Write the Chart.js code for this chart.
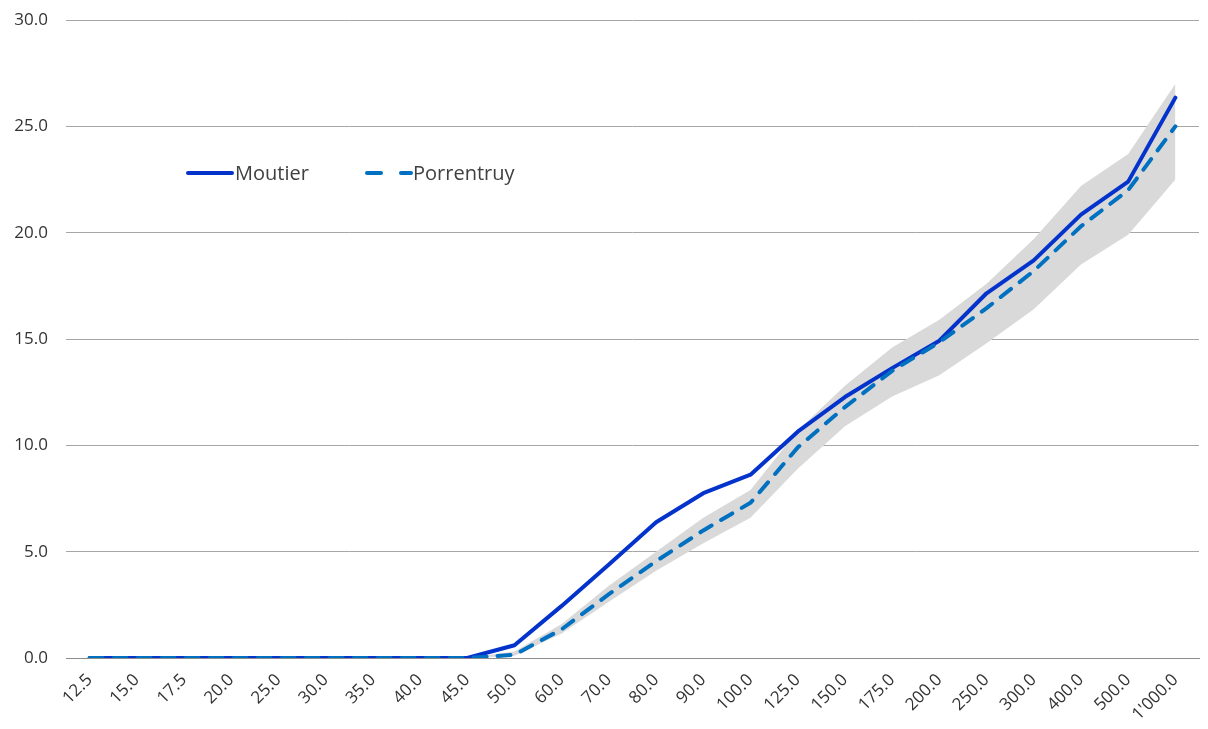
<!DOCTYPE html>
<html>
<head>
<meta charset="utf-8">
<script src="https://cdn.jsdelivr.net/npm/chart.js@4/dist/chart.umd.min.js"></script>
<style>
  html, body { margin: 0; padding: 0; background: #fff; }
  #wrap { width: 1208px; height: 729px; }
</style>
</head>
<body>
<div id="wrap"><canvas id="grafica" width="1208" height="729"></canvas></div>
<script>
// categorias del eje X
const categorias = ['12.5','15.0','17.5','20.0','25.0','30.0','35.0','40.0','45.0','50.0','60.0','70.0','80.0','90.0','100.0','125.0','150.0','175.0','200.0','250.0','300.0','400.0','500.0',"1'000.0"];

// series
const moutier    = [0,0,0,0,0,0,0,0,0,0.6,2.45,4.4,6.38,7.75,8.62,10.64,12.27,13.63,14.92,17.15,18.7,20.85,22.4,26.35];
const porrentruy = [0,0,0,0,0,0,0,0,0,0.15,1.35,3.0,4.55,6.0,7.3,9.9,11.8,13.5,14.85,16.45,18.2,20.3,22.0,25.0];

// banda gris (min / max)
const bandaMin = [0,0,0,0,0,0,0,0,0,0.1,1.15,2.65,4.1,5.4,6.6,8.9,10.9,12.3,13.3,14.8,16.4,18.5,19.9,22.5];
const bandaMax = [0,0,0,0,0,0,0,0,0,0.3,1.6,3.4,5.0,6.6,7.9,10.7,12.8,14.6,15.9,17.6,19.7,22.2,23.7,27.0];

// ticks eje Y
const ticksY = [0, 5, 10, 15, 20, 25, 30];

const FUENTE = "'Open Sans', sans-serif";

// leyenda dibujada dentro del area
const leyendaPlugin = {
    id: 'leyendaInterna',
    afterDraw(chart) {
        const ctx = chart.ctx;
        const y = 173;
        ctx.save();
        ctx.lineCap = 'round';
        ctx.lineWidth = 4;
        // Moutier
        ctx.strokeStyle = '#0433CC';
        ctx.beginPath(); ctx.moveTo(188, y); ctx.lineTo(232, y); ctx.stroke();
        // Porrentruy
        ctx.strokeStyle = '#0070C0';
        ctx.beginPath(); ctx.moveTo(367, y); ctx.lineTo(381, y); ctx.stroke();
        ctx.beginPath(); ctx.moveTo(401, y); ctx.lineTo(411, y); ctx.stroke();

        ctx.fillStyle = '#404040';
        ctx.font = "20px " + FUENTE;
        ctx.textBaseline = 'middle';
        ctx.fillText('Moutier', 235, y + 1);
        ctx.fillText('Porrentruy', 413, y + 1);
        ctx.restore();
    }
};

const ctx = document.getElementById('grafica').getContext('2d');
new Chart(ctx, {
    type: 'line',
    data: {
        labels: categorias,
        datasets: [
            {
                label: 'Porrentruy',
                data: porrentruy,
                borderColor: '#0070C0',
                borderWidth: 4,
                borderDash: [13, 11],
                borderCapStyle: 'round',
                pointRadius: 0,
                fill: false,
                tension: 0,
                order: 0
            },
            {
                label: 'Moutier',
                data: moutier,
                borderColor: '#0433CC',
                borderWidth: 4,
                borderCapStyle: 'round',
                borderJoinStyle: 'round',
                pointRadius: 0,
                fill: false,
                tension: 0,
                order: 1
            },
            {
                label: 'min',
                data: bandaMin,
                borderWidth: 0,
                borderColor: 'rgba(0,0,0,0)',
                pointRadius: 0,
                fill: false,
                order: 3
            },
            {
                label: 'max',
                data: bandaMax,
                borderWidth: 0,
                borderColor: 'rgba(0,0,0,0)',
                backgroundColor: '#D9D9D9',
                pointRadius: 0,
                fill: '-1',
                order: 2
            }
        ]
    },
    options: {
        responsive: false,
        animation: false,
        layout: { padding: { top: 20, right: 9, left: 0, bottom: 0 } },
        plugins: {
            legend: { display: false },
            tooltip: { enabled: false }
        },
        scales: {
            x: {
                offset: true,
                grid: { display: false, drawTicks: false, offset: true },
                border: { display: true, color: '#8c8c8c', width: 1 },
                ticks: {
                    color: '#333333',
                    font: { family: FUENTE, size: 17 },
                    minRotation: 45,
                    maxRotation: 45,
                    autoSkip: false,
                    padding: 12
                },
                afterFit(scale) { scale.height = 71; }
            },
            y: {
                min: 0,
                max: 30,
                afterBuildTicks(scale) { scale.ticks = ticksY.map(v => ({ value: v })); },
                grid: { color: '#a6a6a6', lineWidth: 1, drawTicks: false },
                border: { display: false },
                ticks: {
                    color: '#333333',
                    font: { family: FUENTE, size: 17 },
                    padding: 18,
                    callback: v => Number(v).toFixed(1)
                },
                afterFit(scale) {
                    scale.width = 66;
                    scale.paddingTop = 0;
                    scale.paddingBottom = 0;
                }
            }
        }
    },
    plugins: [leyendaPlugin]
});
</script>
</body>
</html>
